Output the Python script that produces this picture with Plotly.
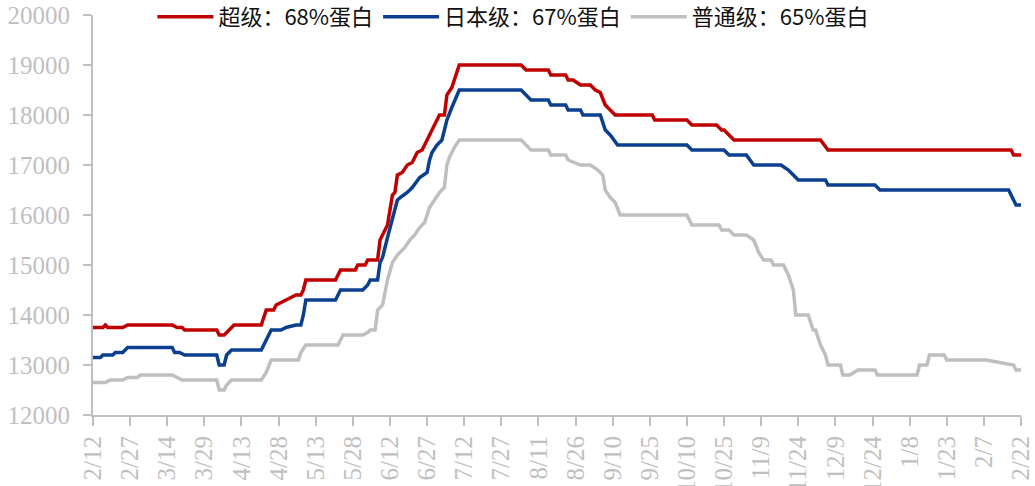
import plotly.graph_objects as go

# ---- data ----
names = ["超级：68%蛋白", "日本级：67%蛋白", "普通级：65%蛋白"]
colors = ["#C00000", "#0B3F8F", "#BFBFBF"]

red_dates = ["2023-02-12", "2023-02-16", "2023-02-17", "2023-02-18", "2023-02-24", "2023-02-26",
             "2023-03-16", "2023-03-18", "2023-03-20", "2023-03-21", "2023-04-03", "2023-04-04",
             "2023-04-06", "2023-04-08", "2023-04-10", "2023-04-21", "2023-04-23", "2023-04-26",
             "2023-04-27", "2023-05-01", "2023-05-05", "2023-05-07", "2023-05-08", "2023-05-09",
             "2023-05-21", "2023-05-23", "2023-05-29", "2023-05-30", "2023-06-02", "2023-06-03",
             "2023-06-07", "2023-06-08", "2023-06-09", "2023-06-11", "2023-06-13", "2023-06-14",
             "2023-06-15", "2023-06-17", "2023-06-19", "2023-06-21", "2023-06-23", "2023-06-25",
             "2023-06-28", "2023-06-30", "2023-07-02", "2023-07-04", "2023-07-05", "2023-07-07",
             "2023-07-10", "2023-08-04", "2023-08-06", "2023-08-15", "2023-08-16", "2023-08-22",
             "2023-08-23", "2023-08-25", "2023-08-28", "2023-09-01", "2023-09-03", "2023-09-05",
             "2023-09-07", "2023-09-09", "2023-09-11", "2023-09-26", "2023-09-27", "2023-10-10",
             "2023-10-12", "2023-10-22", "2023-10-24", "2023-10-25", "2023-10-27", "2023-10-29",
             "2023-12-03", "2023-12-06", "2024-02-18", "2024-02-19", "2024-02-22"]
red_vals = [13750, 13750, 13800, 13750, 13750, 13800,
            13800, 13750, 13750, 13700, 13700, 13600,
            13600, 13700, 13800, 13800, 14100, 14100,
            14200, 14300, 14400, 14400, 14500, 14700,
            14700, 14900, 14900, 15000, 15000, 15100,
            15100, 15500, 15600, 15800, 16400, 16450,
            16800, 16850, 17000, 17050, 17250, 17300,
            17600, 17800, 18000, 18000, 18400, 18550,
            19000, 19000, 18900, 18900, 18800, 18800,
            18700, 18700, 18600, 18600, 18500, 18450,
            18200, 18100, 18000, 18000, 17900, 17900,
            17800, 17800, 17700, 17700, 17600, 17500,
            17500, 17300, 17300, 17200, 17200]

blue_dates = ["2023-02-12", "2023-02-15", "2023-02-16", "2023-02-20", "2023-02-21", "2023-02-24",
              "2023-02-26", "2023-03-16", "2023-03-17", "2023-03-19", "2023-03-21", "2023-04-03",
              "2023-04-04", "2023-04-06", "2023-04-07", "2023-04-09", "2023-04-21", "2023-04-23",
              "2023-04-25", "2023-04-29", "2023-05-01", "2023-05-05", "2023-05-07", "2023-05-08",
              "2023-05-09", "2023-05-21", "2023-05-23", "2023-06-01", "2023-06-03", "2023-06-04",
              "2023-06-07", "2023-06-08", "2023-06-09", "2023-06-11", "2023-06-13", "2023-06-15",
              "2023-06-17", "2023-06-19", "2023-06-21", "2023-06-24", "2023-06-27", "2023-06-28",
              "2023-06-29", "2023-07-01", "2023-07-03", "2023-07-05", "2023-07-07", "2023-07-10",
              "2023-08-04", "2023-08-08", "2023-08-15", "2023-08-16", "2023-08-22", "2023-08-23",
              "2023-08-28", "2023-08-29", "2023-09-05", "2023-09-07", "2023-09-09", "2023-09-12",
              "2023-10-10", "2023-10-12", "2023-10-25", "2023-10-27", "2023-11-03", "2023-11-06",
              "2023-11-17", "2023-11-20", "2023-11-22", "2023-11-24", "2023-12-05", "2023-12-06",
              "2023-12-25", "2023-12-27", "2024-02-17", "2024-02-19", "2024-02-20", "2024-02-22"]
blue_vals = [13150, 13150, 13200, 13200, 13250, 13250,
             13350, 13350, 13250, 13250, 13200, 13200,
             13000, 13000, 13200, 13300, 13300, 13500,
             13700, 13700, 13750, 13800, 13800, 14000,
             14300, 14300, 14500, 14500, 14600, 14700,
             14700, 15050, 15150, 15550, 15950, 16300,
             16380, 16450, 16550, 16750, 16850, 17100,
             17250, 17400, 17500, 17900, 18150, 18500,
             18500, 18300, 18300, 18200, 18200, 18100,
             18100, 18000, 18000, 17700, 17600, 17400,
             17400, 17300, 17300, 17200, 17200, 17000,
             17000, 16900, 16800, 16700, 16700, 16600,
             16600, 16500, 16500, 16300, 16200, 16200]

gray_dates = ["2023-02-12", "2023-02-17", "2023-02-19", "2023-02-24", "2023-02-26", "2023-03-02",
              "2023-03-03", "2023-03-16", "2023-03-18", "2023-03-20", "2023-04-03", "2023-04-04",
              "2023-04-06", "2023-04-07", "2023-04-09", "2023-04-21", "2023-04-23", "2023-04-25",
              "2023-05-06", "2023-05-07", "2023-05-09", "2023-05-22", "2023-05-23", "2023-05-24",
              "2023-06-01", "2023-06-03", "2023-06-04", "2023-06-06", "2023-06-07", "2023-06-09",
              "2023-06-10", "2023-06-11", "2023-06-13", "2023-06-15", "2023-06-18", "2023-06-20",
              "2023-06-22", "2023-06-24", "2023-06-26", "2023-06-28", "2023-06-30", "2023-07-02",
              "2023-07-04", "2023-07-05", "2023-07-06", "2023-07-08", "2023-07-10", "2023-08-04",
              "2023-08-06", "2023-08-08", "2023-08-15", "2023-08-16", "2023-08-22", "2023-08-23",
              "2023-08-28", "2023-09-01", "2023-09-04", "2023-09-06", "2023-09-07", "2023-09-09",
              "2023-09-11", "2023-09-13", "2023-10-10", "2023-10-12", "2023-10-23", "2023-10-24",
              "2023-10-27", "2023-10-29", "2023-11-03", "2023-11-06", "2023-11-08", "2023-11-10",
              "2023-11-13", "2023-11-14", "2023-11-18", "2023-11-20", "2023-11-22", "2023-11-23",
              "2023-11-28", "2023-11-30", "2023-12-01", "2023-12-03", "2023-12-05", "2023-12-06",
              "2023-12-11", "2023-12-12", "2023-12-15", "2023-12-18", "2023-12-25", "2023-12-26",
              "2024-01-11", "2024-01-12", "2024-01-15", "2024-01-16", "2024-01-22", "2024-01-23",
              "2024-02-08", "2024-02-19", "2024-02-20", "2024-02-22"]
gray_vals = [12650, 12650, 12700, 12700, 12750, 12750,
             12800, 12800, 12750, 12700, 12700, 12500,
             12500, 12600, 12700, 12700, 12850, 13100,
             13100, 13250, 13400, 13400, 13500, 13600,
             13600, 13650, 13700, 13700, 14100, 14200,
             14450, 14700, 15050, 15200, 15350, 15500,
             15600, 15750, 15850, 16150, 16300, 16450,
             16550, 17000, 17150, 17350, 17500, 17500,
             17400, 17300, 17300, 17200, 17200, 17100,
             17000, 17000, 16900, 16800, 16500, 16350,
             16250, 16000, 16000, 15800, 15800, 15700,
             15700, 15600, 15600, 15500, 15250, 15100,
             15100, 15000, 15000, 14800, 14500, 14000,
             14000, 13700, 13700, 13400, 13200, 13000,
             13000, 12800, 12800, 12900, 12900, 12800,
             12800, 13000, 13000, 13200, 13200, 13100,
             13100, 13000, 12900, 12900]

x_start, x_end = "2023-02-12", "2024-02-22"
y_min, y_max, y_step = 12000, 20000, 1000

# ---- figure ----
fig = go.Figure()
for nm, c, xs, ys in [(names[0], colors[0], red_dates, red_vals),
                      (names[1], colors[1], blue_dates, blue_vals),
                      (names[2], colors[2], gray_dates, gray_vals)]:
    fig.add_trace(go.Scatter(x=xs, y=ys, name=nm, mode="lines",
                             line=dict(color=c, width=3.5)))

axis_gray = "#BFBFBF"
tick_font = dict(family="Liberation Serif, Times New Roman, serif", size=25, color=axis_gray)

fig.update_layout(
    width=1035, height=486,
    margin=dict(l=93, r=14, t=15, b=71, autoexpand=False),
    paper_bgcolor="white", plot_bgcolor="white",
    showlegend=True,
    legend=dict(orientation="h", x=0.064, xanchor="left",
                yref="container", y=1 - 17 / 486, yanchor="middle",
                font=dict(family="Noto Sans CJK SC", size=22, color="#111111"),
                itemwidth=56, bgcolor="rgba(0,0,0,0)"),
    xaxis=dict(type="date", range=[x_start, x_end],
               tickmode="linear", tick0=x_start, dtick=15 * 86400000,
               tickformat="%-m/%-d", tickangle=-90,
               showgrid=False, zeroline=False,
               showline=True, linecolor=axis_gray, linewidth=2,
               ticks="outside", ticklen=9, tickwidth=2, tickcolor=axis_gray,
               ticklabelstandoff=0,
               tickfont=tick_font),
    yaxis=dict(range=[y_min, y_max], dtick=y_step, tick0=y_min,
               tickformat="d",
               showgrid=False, zeroline=False,
               showline=True, linecolor=axis_gray, linewidth=2,
               ticks="outside", ticklen=8, tickwidth=2, tickcolor=axis_gray,
               ticklabelstandoff=8,
               tickfont=tick_font),
)

fig.write_html("out.html", config={"displayModeBar": False},
               post_script="document.body.style.margin='0px';document.body.style.padding='0px';")
